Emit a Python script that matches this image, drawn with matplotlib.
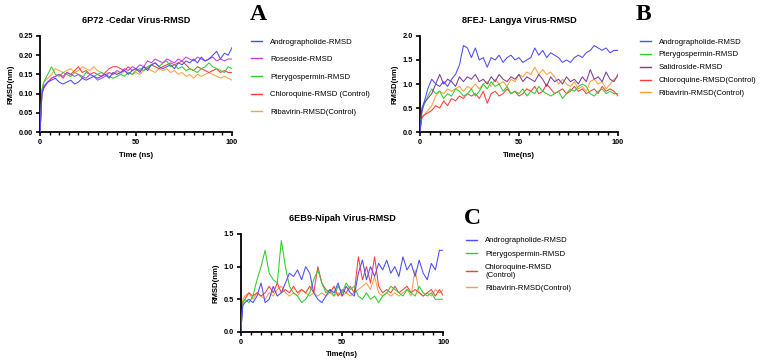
import numpy as np
import matplotlib
matplotlib.use("Agg")
import matplotlib.pyplot as plt
from matplotlib.ticker import MultipleLocator, FormatStrFormatter

plt.rcParams['font.family'] = ['Liberation Sans', 'DejaVu Sans']

# time grid (ns)
t = [0, 1, 2, 4, 6, 8, 10, 12, 14, 16, 18, 20, 22, 24, 26, 28, 30, 32, 34, 36, 38,
     40, 42, 44, 46, 48, 50, 52, 54, 56, 58, 60, 62, 64, 66, 68, 70, 72, 74, 76, 78,
     80, 82, 84, 86, 88, 90, 92, 94, 96, 98, 100]

# ---- A : 6P72 Cedar virus
a_andro = [0, 0.10, 0.12, 0.13, 0.135, 0.14, 0.13, 0.125, 0.13, 0.135, 0.125, 0.13,
           0.14, 0.135, 0.14, 0.145, 0.14, 0.145, 0.15, 0.14, 0.155, 0.15, 0.155, 0.16,
           0.15, 0.16, 0.165, 0.155, 0.17, 0.16, 0.175, 0.18, 0.17, 0.165, 0.17, 0.175,
           0.165, 0.18, 0.175, 0.185, 0.18, 0.19, 0.18, 0.195, 0.185, 0.19, 0.2, 0.21,
           0.19, 0.205, 0.2, 0.22]
a_roseo = [0, 0.10, 0.115, 0.13, 0.14, 0.145, 0.15, 0.145, 0.155, 0.15, 0.145, 0.15,
           0.145, 0.14, 0.15, 0.145, 0.135, 0.14, 0.145, 0.155, 0.15, 0.16, 0.155, 0.165,
           0.16, 0.17, 0.165, 0.175, 0.17, 0.185, 0.18, 0.19, 0.185, 0.18, 0.19, 0.185,
           0.18, 0.19, 0.185, 0.195, 0.19, 0.185, 0.195, 0.19, 0.185, 0.19, 0.195, 0.185,
           0.19, 0.185, 0.19, 0.19]
a_ptery = [0, 0.11, 0.13, 0.15, 0.17, 0.15, 0.145, 0.155, 0.15, 0.145, 0.155, 0.15,
           0.14, 0.155, 0.15, 0.145, 0.15, 0.155, 0.15, 0.145, 0.14, 0.145, 0.15, 0.145,
           0.155, 0.15, 0.16, 0.165, 0.16, 0.17, 0.175, 0.18, 0.17, 0.18, 0.185, 0.17,
           0.175, 0.165, 0.17, 0.16, 0.165, 0.16, 0.155, 0.165, 0.17, 0.18, 0.17, 0.165,
           0.16, 0.155, 0.17, 0.165]
a_chloro = [0, 0.10, 0.115, 0.13, 0.14, 0.145, 0.15, 0.14, 0.155, 0.15, 0.16, 0.17,
            0.155, 0.16, 0.15, 0.155, 0.15, 0.145, 0.155, 0.165, 0.17, 0.17, 0.165, 0.16,
            0.17, 0.16, 0.165, 0.16, 0.17, 0.165, 0.175, 0.17, 0.165, 0.17, 0.175, 0.18,
            0.175, 0.18, 0.185, 0.175, 0.165, 0.16, 0.17, 0.165, 0.16, 0.155, 0.16, 0.165,
            0.155, 0.16, 0.155, 0.155]
a_riba = [0, 0.11, 0.13, 0.14, 0.15, 0.165, 0.16, 0.155, 0.16, 0.165, 0.155, 0.16,
          0.17, 0.165, 0.16, 0.17, 0.16, 0.155, 0.15, 0.155, 0.15, 0.155, 0.15, 0.16,
          0.155, 0.15, 0.155, 0.15, 0.16, 0.165, 0.16, 0.155, 0.165, 0.16, 0.165, 0.155,
          0.16, 0.15, 0.155, 0.145, 0.15, 0.14, 0.15, 0.145, 0.15, 0.155, 0.15, 0.145,
          0.14, 0.145, 0.14, 0.135]

# ---- B : 8FEJ Langya virus
b_andro = [0, 0.4, 0.6, 0.9, 1.1, 1.0, 0.95, 1.05, 0.95, 1.1, 1.2, 1.4, 1.8, 1.75,
           1.55, 1.75, 1.5, 1.55, 1.35, 1.55, 1.5, 1.6, 1.45, 1.55, 1.6, 1.5, 1.55,
           1.45, 1.5, 1.55, 1.75, 1.6, 1.7, 1.55, 1.65, 1.6, 1.55, 1.45, 1.5, 1.45,
           1.55, 1.6, 1.55, 1.65, 1.7, 1.8, 1.75, 1.7, 1.75, 1.65, 1.7, 1.7]
b_ptery = [0, 0.45, 0.55, 0.75, 0.9, 0.8, 0.85, 0.7, 0.8, 0.75, 0.9, 0.85, 0.75, 0.8,
           0.9, 0.75, 0.85, 1.0, 0.9, 1.05, 0.95, 1.0, 0.85, 0.95, 0.8, 0.85, 0.8, 0.9,
           0.75, 0.85, 0.8, 0.95, 0.85, 0.8, 0.75, 0.8, 0.85, 0.7, 0.8, 0.9, 0.85, 0.95,
           1.0, 0.95, 0.8, 0.75, 0.85, 0.9, 0.8, 0.85, 0.8, 0.8]
b_salid = [0, 0.5, 0.6, 0.7, 0.8, 1.0, 1.2, 1.0, 1.1, 1.05, 0.95, 1.15, 1.05, 1.15,
           1.1, 1.2, 1.05, 1.1, 1.0, 1.15, 1.05, 1.2, 1.1, 1.05, 1.15, 1.1, 1.2, 1.05,
           1.15, 1.1, 1.05, 1.2, 1.1, 0.95, 1.15, 1.05, 1.1, 1.0, 1.15, 1.05, 1.1, 1.0,
           1.15, 1.05, 1.3, 1.1, 1.15, 1.05, 1.25, 1.1, 1.05, 1.2]
b_chloro = [0, 0.3, 0.35, 0.4, 0.45, 0.55, 0.5, 0.65, 0.55, 0.7, 0.65, 0.75, 0.7, 0.8,
            0.75, 0.8, 0.7, 0.85, 0.6, 0.8, 0.85, 0.75, 0.8, 0.9, 0.8, 0.85, 0.75, 0.8,
            0.9, 0.85, 0.95, 0.8, 0.85, 1.0, 0.9, 0.8, 0.85, 0.9, 0.8, 0.85, 0.95, 0.85,
            0.9, 0.8, 0.85, 0.9, 0.8, 0.95, 0.85, 0.9, 0.85, 0.75]
b_riba = [0, 0.3, 0.35, 0.45, 0.55, 0.75, 0.85, 0.8, 0.9, 0.85, 0.9, 0.95, 0.85, 0.95,
          0.9, 1.0, 0.9, 1.0, 1.05, 0.95, 1.1, 1.0, 1.05, 0.95, 1.1, 1.05, 1.2, 1.15,
          1.25, 1.2, 1.35, 1.2, 1.3, 1.2, 1.25, 1.15, 1.0, 1.1, 1.0, 0.95, 1.05, 0.9,
          0.95, 0.85, 1.05, 1.1, 1.0, 1.05, 0.9, 1.0, 1.1, 1.15]

# ---- C : 6EB9 Nipah virus
c_andro = [0, 0.4, 0.45, 0.5, 0.45, 0.55, 0.75, 0.45, 0.5, 0.7, 0.55, 0.6, 0.75, 0.9,
           0.85, 0.95, 0.8, 1.0, 0.9, 0.6, 0.5, 0.45, 0.55, 0.65, 0.6, 0.75, 0.55, 0.7,
           0.6, 0.55, 0.9, 1.1, 0.8, 1.0, 0.85, 1.05, 0.95, 1.1, 0.9, 1.0, 0.85, 1.15,
           0.95, 1.05, 0.85, 1.1, 0.9, 0.8, 1.05, 0.95, 1.25, 1.25]
c_ptery = [0, 0.45, 0.5, 0.45, 0.55, 0.8, 1.0, 1.25, 0.9, 0.8, 0.75, 1.4, 1.0, 0.7,
           0.6, 0.55, 0.45, 0.5, 0.6, 0.8, 0.95, 0.75, 0.6, 0.65, 0.55, 0.7, 0.6, 0.75,
           0.65, 0.7, 0.55, 0.5, 0.6, 0.5, 0.55, 0.45, 0.55, 0.6, 0.7, 0.65, 0.6, 0.55,
           0.65, 0.6, 0.55, 0.7, 0.6, 0.55, 0.6, 0.5, 0.5, 0.5]
c_chloro = [0, 0.45, 0.5, 0.6, 0.55, 0.6, 0.55, 0.6, 0.7, 0.6, 0.75, 0.6, 0.65, 0.6,
            0.7, 0.6, 0.65, 0.6, 0.7, 0.6, 1.0, 0.75, 0.65, 0.6, 0.7, 0.55, 0.65, 0.6,
            0.7, 0.6, 1.15, 0.8, 1.0, 0.75, 1.15, 0.7, 0.6, 0.65, 0.6, 0.7, 0.6, 0.65,
            0.7, 0.6, 0.65, 0.6, 0.55, 0.6, 0.65, 0.55, 0.65, 0.55]
c_riba = [0, 0.5, 0.55, 0.6, 0.5, 0.6, 0.55, 0.5, 0.6, 0.55, 0.65, 0.7, 0.6, 0.55,
          0.6, 0.55, 0.65, 0.6, 0.55, 0.6, 0.55, 0.6, 0.55, 0.6, 0.55, 0.6, 0.55, 0.6,
          0.55, 0.6, 0.65, 0.7, 0.75, 0.65, 0.85, 0.6, 0.55, 0.6, 0.55, 0.6, 0.55, 0.6,
          0.65, 0.55, 0.95, 0.6, 0.55, 0.6, 0.55, 0.65, 0.6, 0.65]

blue = '#4B4BFF'
purple = '#C040F0'
green = '#30CC30'
red = '#FF3C3C'
orange = '#FFA040'
darkpurple = '#7B3F8F'

fig = plt.figure(figsize=(7.62, 3.63), dpi=100)


def style(ax, ymax, ystep, fmt, title, xlabel):
    ax.set_xlim(0, 100)
    ax.set_ylim(0, ymax)
    ax.xaxis.set_major_locator(MultipleLocator(50))
    ax.xaxis.set_minor_locator(MultipleLocator(5))
    ax.yaxis.set_major_locator(MultipleLocator(ystep))
    ax.yaxis.set_major_formatter(FormatStrFormatter(fmt))
    for s in ['top', 'right']:
        ax.spines[s].set_visible(False)
    for s in ['left', 'bottom']:
        ax.spines[s].set_linewidth(1.3)
    ax.tick_params(which='major', direction='out', length=3, width=1.2, labelsize=5.3, pad=2)
    ax.tick_params(which='minor', direction='out', length=2, width=1.0)
    for lab in ax.get_xticklabels() + ax.get_yticklabels():
        lab.set_fontweight('bold')
    ax.set_title(title, fontsize=6.6, fontweight='bold', pad=9)
    ax.set_xlabel(xlabel, fontsize=5.6, fontweight='bold', labelpad=4)
    ax.set_ylabel('RMSD(nm)', fontsize=5.6, fontweight='bold', labelpad=3)


lw = 0.75
leg_kw = dict(loc='upper left', bbox_transform=fig.transFigure, frameon=False,
              fontsize=5.6, handlelength=1.4, handletextpad=1.0, borderpad=0,
              borderaxespad=0)

# panel A
axA = fig.add_axes([0.0525, 0.636, 0.252, 0.265])
axA.plot(t, a_andro, color=blue, lw=lw, label='Andrographolide-RMSD', zorder=5)
axA.plot(t, a_roseo, color=purple, lw=lw, label='Roseoside-RMSD', zorder=4)
axA.plot(t, a_ptery, color=green, lw=lw, label='Pterygospermin-RMSD', zorder=3)
axA.plot(t, a_chloro, color=red, lw=lw, label='Chloroquine-RMSD (Control)', zorder=2)
axA.plot(t, a_riba, color=orange, lw=lw, label='Ribavirin-RMSD(Control)', zorder=1)
style(axA, 0.25, 0.05, '%.2f', '6P72 -Cedar Virus-RMSD', 'Time (ns)')
legA = axA.legend(bbox_to_anchor=(0.33, 0.895), labelspacing=1.3, **leg_kw)

# panel B
axB = fig.add_axes([0.551, 0.636, 0.26, 0.265])
axB.plot(t, b_andro, color=blue, lw=lw, label='Andrographolide-RMSD', zorder=5)
axB.plot(t, b_ptery, color=green, lw=lw, label='Pterygospermin-RMSD', zorder=3)
axB.plot(t, b_salid, color=darkpurple, lw=lw, label='Salidroside-RMSD', zorder=4)
axB.plot(t, b_chloro, color=red, lw=lw, label='Chloroquine-RMSD(Control)', zorder=2)
axB.plot(t, b_riba, color=orange, lw=lw, label='Ribavirin-RMSD(Control)', zorder=1)
style(axB, 2.0, 0.5, '%.1f', '8FEJ- Langya Virus-RMSD', 'Time(ns)')
legB = axB.legend(bbox_to_anchor=(0.84, 0.895), labelspacing=0.7, **leg_kw)

# panel C
axC = fig.add_axes([0.316, 0.0854, 0.266, 0.27])
axC.plot(t, c_andro, color=blue, lw=lw, label='Andrographolide-RMSD', zorder=4)
axC.plot(t, c_ptery, color=green, lw=lw, label='Pterygospermin-RMSD', zorder=3)
axC.plot(t, c_chloro, color=red, lw=lw, label='Chloroquine-RMSD\n(Control)', zorder=2)
axC.plot(t, c_riba, color=orange, lw=lw, label='Ribavirin-RMSD(Control)', zorder=1)
style(axC, 1.5, 0.5, '%.1f', '6EB9-Nipah Virus-RMSD', 'Time(ns)')
legC = axC.legend(bbox_to_anchor=(0.612, 0.347), labelspacing=0.75, **leg_kw)

for leg in (legA, legB, legC):
    for h in leg.get_lines():
        h.set_linewidth(1.0)

# panel letters
for txt, x, y in [('A', 0.339, 0.96), ('B', 0.844, 0.96), ('C', 0.62, 0.397)]:
    fig.text(x, y, txt, fontsize=17, fontweight='bold', family='Liberation Serif',
             ha='center', va='center')

fig.savefig('out.png', dpi=100)
